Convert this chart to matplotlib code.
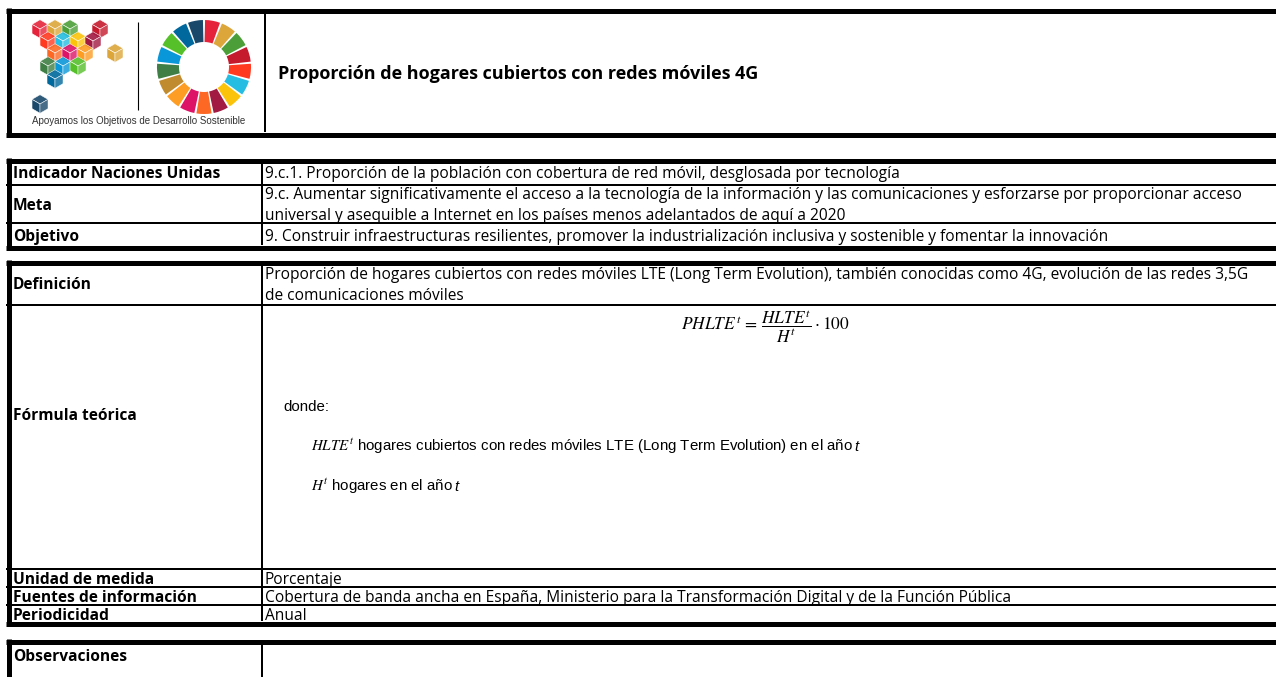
import numpy as np
import matplotlib
matplotlib.use("Agg")
import matplotlib.pyplot as plt
from matplotlib.patches import Wedge, Polygon

# ---------------- data ----------------
title = "Proporción de hogares cubiertos con redes móviles 4G"
logo_text = "Apoyamos los Objetivos de Desarrollo Sostenible"

t1_labels = ["Indicador Naciones Unidas", "Meta", "Objetivo"]
t1_values = [
    ["9.c.1. Proporción de la población con cobertura de red móvil, desglosada por tecnología"],
    ["9.c. Aumentar significativamente el acceso a la tecnología de la información y las comunicaciones y esforzarse por proporcionar acceso",
     "universal y asequible a Internet en los países menos adelantados de aquí a 2020"],
    ["9. Construir infraestructuras resilientes, promover la industrialización inclusiva y sostenible y fomentar la innovación"],
]
t2_labels = ["Definición", "Fórmula teórica", "Unidad de medida", "Fuentes de información", "Periodicidad"]
t2_values = [
    ["Proporción de hogares cubiertos con redes móviles LTE (Long Term Evolution), también conocidas como 4G, evolución de las redes 3,5G",
     "de comunicaciones móviles"],
    [],
    ["Porcentaje"],
    ["Cobertura de banda ancha en España, Ministerio para la Transformación Digital y de la Función Pública"],
    ["Anual"],
]
t3_labels = ["Observaciones"]
formula = r"$PHLTE^{t} \,=\, \dfrac{HLTE^{t}}{H^{t}} \cdot 100$"
donde = "donde:"
var_defs = [(r"$HLTE^{t}$", " hogares cubiertos con redes móviles LTE (Long Term Evolution) en el año "),
            (r"$H^{t}$", " hogares en el año ")]
var_tail = "t"

sdg_colors = ["#E5243B", "#DDA63A", "#4C9F38", "#C5192D", "#FF3A21", "#26BDE2",
              "#FCC30B", "#A21942", "#FD6925", "#DD1367", "#FD9D24", "#BF8B2E",
              "#3F7E44", "#0A97D9", "#56C02B", "#00689D", "#19486A"]
cube_colors = ["#E5243B", "#DDA63A", "#4C9F38", "#C5192D",
               "#FF3A21", "#26BDE2", "#FCC30B", "#A21942",
               "#FD6925", "#DD1367", "#FD9D24", "#DDA63A",
               "#3F7E44", "#0A97D9", "#56C02B",
               "#00689D", "#19486A"]
cube_pos = [(40, 29), (55, 29), (70, 29), (100, 29),
            (48, 41), (63, 41), (78, 41), (93, 41),
            (55, 53), (70, 53), (85, 53), (115, 53),
            (48, 66), (63, 66), (78, 66),
            (55, 79), (40, 104)]

# ---------------- figure ----------------
W, H = 1276, 677
fig = plt.figure(figsize=(W / 100, H / 100), dpi=100)
ax = fig.add_axes([0, 0, 1, 1])
ax.set_xlim(0, W)
ax.set_ylim(H, 0)
ax.axis("off")
plt.rcParams["mathtext.fontset"] = "stix"

PX = 0.72  # points per pixel
THICK = 5 * PX
THIN = 2 * PX
SANS = "Open Sans"
FS = 11.2
FSB = 11.2
COLX = 262
TX = 265
LX = 13
LINE_GAP = 21


def hline(y, x0=6, x1=W, lw=THIN):
    ax.plot([x0, x1], [y, y], color="black", lw=lw, solid_capstyle="butt")


def vline(x, y0, y1, lw=THIN):
    ax.plot([x, x], [y0, y1], color="black", lw=lw, solid_capstyle="butt")


# ---- header block ----
hline(10.5, lw=THICK)
hline(134.5, lw=THICK)
vline(9, 8, 137, lw=THICK)
vline(265, 12, 132)
ax.text(278, 74, title, fontsize=13.0, fontweight="bold", family=SANS, va="center", ha="left")


def cube(cx, cy, color, s=8):
    h = s * 0.58
    top = [(cx, cy - 2 * h), (cx + s, cy - h), (cx, cy), (cx - s, cy - h)]
    left = [(cx - s, cy - h), (cx, cy), (cx, cy + 2 * h), (cx - s, cy + h)]
    right = [(cx + s, cy - h), (cx, cy), (cx, cy + 2 * h), (cx + s, cy + h)]
    ax.add_patch(Polygon(top, closed=True, fc=color, ec="white", lw=0.4, alpha=0.9))
    ax.add_patch(Polygon(left, closed=True, fc=color, ec="white", lw=0.4))
    ax.add_patch(Polygon(right, closed=True, fc=color, ec="white", lw=0.4, alpha=0.8))


for (cx, cy), c in zip(cube_pos, cube_colors):
    cube(cx, cy, c)

vline(138, 22, 110, lw=0.8)

cxw, cyw, r_out, r_in = 204, 67, 47, 25
n = len(sdg_colors)
step = 360 / n
for i, c in enumerate(sdg_colors):
    a0 = -90 + i * step + 1.3
    a1 = -90 + (i + 1) * step - 1.3
    ax.add_patch(Wedge((cxw, cyw), r_out, a0, a1, width=r_out - r_in, fc=c, ec="none"))

ax.text(32, 121, logo_text, fontsize=7.0, family="Liberation Sans", color="#333333", va="center", ha="left")


def table(lines, labels, values, label_y=None):
    for i, (lab, vals) in enumerate(zip(labels, values)):
        y0, y1 = lines[i], lines[i + 1]
        ym = (y0 + y1) / 2 + 1.5
        ly = ym if (label_y is None or label_y[i] is None) else label_y[i]
        ax.text(LX, ly, lab, fontsize=FSB, fontweight="bold", family=SANS, va="center")
        nl = len(vals)
        for k, v in enumerate(vals):
            yy = ym + (k - (nl - 1) / 2) * LINE_GAP
            ax.text(TX, yy, v, fontsize=FS, family=SANS, va="center")


# ---- table 1 ----
t1_lines = [160.5, 185, 223, 247.5]
hline(t1_lines[0], lw=THICK)
hline(t1_lines[-1], lw=THICK)
for y in t1_lines[1:-1]:
    hline(y)
vline(9, 158, 250, lw=THICK)
vline(COLX, 163, 245)
table(t1_lines, t1_labels, t1_values)

# ---- table 2 ----
t2_lines = [262.5, 305, 569, 587, 605, 623.5]
hline(t2_lines[0], lw=THICK)
hline(t2_lines[-1], lw=THICK)
for y in t2_lines[1:-1]:
    hline(y)
vline(9, 260, 626, lw=THICK)
vline(COLX, 265, 621)
table(t2_lines, t2_labels, t2_values, label_y=[None, 416, None, None, None])

# formula contents
ax.text(765, 327, formula, fontsize=12.5, ha="center", va="center")
ax.text(283, 411, donde, fontsize=10.8, family="Liberation Sans", va="baseline")
fig.canvas.draw()
renderer = fig.canvas.get_renderer()
inv = ax.transData.inverted()
for (sym, txt), yy in zip(var_defs, [451, 491]):
    t = ax.text(311, yy, sym + txt, fontsize=10.8, family="Liberation Sans", va="baseline")
    bb = t.get_window_extent(renderer)
    xr = inv.transform((bb.x1, bb.y0))[0]
    ax.text(xr + 1, yy, var_tail, fontsize=10.8, family="Liberation Sans", style="italic", va="baseline")

# ---- table 3 ----
hline(641.5, lw=THICK)
vline(9, 639, H, lw=THICK)
vline(COLX, 644, H)
ax.text(LX, 657, t3_labels[0], fontsize=FSB, fontweight="bold", family=SANS, va="center")

fig.savefig("out.png", dpi=100, facecolor="white")
